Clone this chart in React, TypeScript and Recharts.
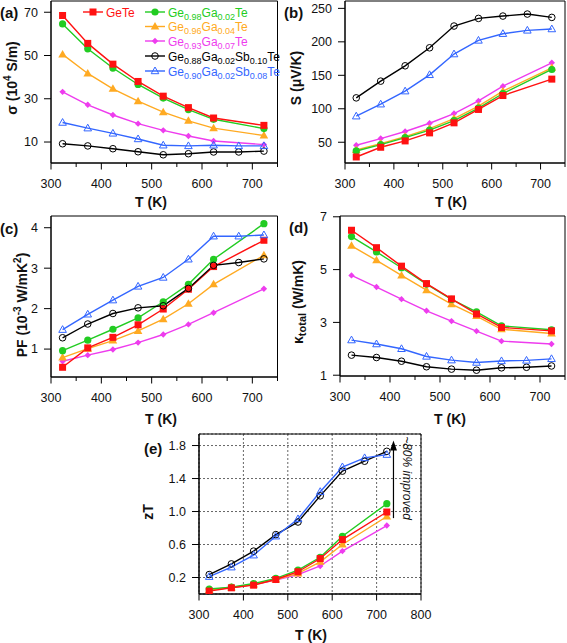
import React from "react";
import { LineChart, Line, XAxis, YAxis, ReferenceArea, ReferenceLine, CartesianGrid } from "recharts";

const FONT = "Arial, 'Liberation Sans', Helvetica, sans-serif";

const TEMPS = [323, 373, 423, 473, 523, 573, 623, 673, 723];

// (a) electrical conductivity, 10^4 S/m
const SIGMA_GETE = [68.5, 55.6, 46.0, 38.0, 31.2, 25.9, 21.1, null, 17.7];
const SIGMA_GA2 = [64.6, 53.1, 44.2, 36.6, 30.3, 25.0, 20.5, null, 16.2];
const SIGMA_GA4 = [50.5, 41.7, 34.6, 28.9, 23.8, 19.8, 16.4, null, 13.0];
const SIGMA_GA7 = [33.2, 27.2, 22.5, 18.5, 15.4, 12.8, 10.5, null, 8.8];
const SIGMA_SB10 = [9.2, 8.2, 6.9, 5.5, 4.1, 4.6, 5.4, 5.4, 5.8];
const SIGMA_SB8 = [19.0, 16.4, 14.0, 11.4, 8.5, 8.2, 8.5, 8.2, 8.2];

// (b) Seebeck, uV/K
const S_GETE = [28.0, 42.5, 52, 64, 79, 99, 119.8, null, 144.3];
const S_GA2 = [37, 46.5, 57, 68, 82.4, 100.9, 122.8, null, 158.7];
const S_GA4 = [38.5, 48, 58.5, 70.4, 85.4, 103.9, 126.3, null, 161.2];
const S_GA7 = [45.5, 55.5, 66, 78.4, 92.9, 111.8, 133.8, null, 168.7];
const S_SB10 = [116.3, 141.3, 164.2, 191.1, 223.6, 235, 238.5, 241.5, 236.5];
const S_SB8 = [88.9, 106.8, 126.3, 150.7, 181.7, 202.1, 212.1, 217.1, 219.1];

// (c) power factor, 10^-3 W/mK^2
const PF_GETE = [0.55, 1.03, 1.29, 1.6, 1.99, 2.48, 3.04, null, 3.69];
const PF_GA2 = [0.96, 1.22, 1.49, 1.77, 2.17, 2.6, 3.22, null, 4.1];
const PF_GA4 = [0.79, 1.01, 1.21, 1.45, 1.74, 2.12, 2.6, null, 3.32];
const PF_GA7 = [0.7, 0.85, 0.99, 1.16, 1.36, 1.61, 1.9, null, 2.49];
const PF_SB10 = [1.28, 1.62, 1.88, 2.02, 2.07, 2.5, 3.07, 3.14, 3.23];
const PF_SB8 = [1.48, 1.86, 2.21, 2.55, 2.77, 3.22, 3.79, 3.79, 3.82];

// (d) total thermal conductivity, W/mK
const K_GETE = [6.49, 5.83, 5.13, 4.47, 3.89, 3.32, 2.81, null, 2.68];
const K_GA2 = [6.25, 5.67, 5.07, 4.45, 3.87, 3.4, 2.87, null, 2.72];
const K_GA4 = [5.9, 5.35, 4.78, 4.22, 3.69, 3.24, 2.74, null, 2.58];
const K_GA7 = [4.78, 4.34, 3.88, 3.44, 3.05, 2.67, 2.29, null, 2.18];
const K_SB10 = [1.76, 1.67, 1.53, 1.32, 1.23, 1.19, 1.28, 1.3, 1.35];
const K_SB8 = [2.33, 2.18, 2.0, 1.71, 1.57, 1.48, 1.54, 1.56, 1.62];

// (e) zT
const ZT_GETE = [0.035, 0.075, 0.107, 0.176, 0.27, 0.43, 0.66, null, 0.994];
const ZT_GA2 = [0.06, 0.083, 0.127, 0.19, 0.29, 0.445, 0.7, null, 1.095];
const ZT_GA4 = [0.047, 0.079, 0.115, 0.176, 0.25, 0.39, 0.6, null, 0.94];
const ZT_GA7 = [0.055, 0.075, 0.115, 0.168, 0.236, 0.34, 0.52, null, 0.83];
const ZT_SB10 = [0.236, 0.365, 0.52, 0.72, 0.873, 1.19, 1.49, 1.61, 1.73];
const ZT_SB8 = [0.21, 0.325, 0.47, 0.7, 0.91, 1.24, 1.54, 1.65, 1.69];

// improvement arrow in (e)
const ARROW_T = 738;
const ARROW_FROM = 0.92;
const ARROW_TO = 1.86;

const SERIES = [
  { key: "ga7", name: "Ge_{0.93}Ga_{0.07}Te", color: "#ee3cee", marker: "diamond" },
  { key: "ga4", name: "Ge_{0.96}Ga_{0.04}Te", color: "#ffaa22", marker: "triangle" },
  { key: "ga2", name: "Ge_{0.98}Ga_{0.02}Te", color: "#22cc22", marker: "circle" },
  { key: "gete", name: "GeTe", color: "#ff1111", marker: "square" },
  { key: "sb10", name: "Ge_{0.88}Ga_{0.02}Sb_{0.10}Te", color: "#000000", marker: "openCircle" },
  { key: "sb8", name: "Ge_{0.90}Ga_{0.02}Sb_{0.08}Te", color: "#3366ff", marker: "openTriangle" },
];

const rows = (gete, ga2, ga4, ga7, sb10, sb8) =>
  TEMPS.map((T, i) => ({ T, gete: gete[i], ga2: ga2[i], ga4: ga4[i], ga7: ga7[i], sb10: sb10[i], sb8: sb8[i] }));

const DATA_A = rows(SIGMA_GETE, SIGMA_GA2, SIGMA_GA4, SIGMA_GA7, SIGMA_SB10, SIGMA_SB8);
const DATA_B = rows(S_GETE, S_GA2, S_GA4, S_GA7, S_SB10, S_SB8);
const DATA_C = rows(PF_GETE, PF_GA2, PF_GA4, PF_GA7, PF_SB10, PF_SB8);
const DATA_D = rows(K_GETE, K_GA2, K_GA4, K_GA7, K_SB10, K_SB8);
const DATA_E = rows(ZT_GETE, ZT_GA2, ZT_GA4, ZT_GA7, ZT_SB10, ZT_SB8);

function Marker({ type, color, cx, cy }) {
  switch (type) {
    case "square":
      return <rect x={cx - 3.5} y={cy - 3.5} width={7} height={7} fill={color} />;
    case "circle":
      return <circle cx={cx} cy={cy} r={3.6} fill={color} />;
    case "triangle":
      return <polygon points={`${cx},${cy - 4.5} ${cx + 4.3},${cy + 3} ${cx - 4.3},${cy + 3}`} fill={color} />;
    case "diamond":
      return <polygon points={`${cx},${cy - 3.2} ${cx + 3.2},${cy} ${cx},${cy + 3.2} ${cx - 3.2},${cy}`} fill={color} />;
    case "openCircle":
      return <circle cx={cx} cy={cy} r={3.3} fill="none" stroke={color} strokeWidth={1} />;
    case "openTriangle":
      return (
        <polygon
          points={`${cx},${cy - 4} ${cx + 3.8},${cy + 2.7} ${cx - 3.8},${cy + 2.7}`}
          fill="none"
          stroke={color}
          strokeWidth={1}
        />
      );
    default:
      return null;
  }
}

const dotFor = (type, color) => (p) => {
  if (p.cx == null || p.cy == null || p.value == null || (Array.isArray(p.value) && p.value[1] == null))
    return <g key={p.index} />;
  return (
    <g key={p.index}>
      <Marker type={type} color={color} cx={p.cx} cy={p.cy} />
    </g>
  );
};

const xTick = (p) => {
  const { x, y, payload } = p;
  const major = payload.value % 100 === 0;
  return (
    <g>
      <line x1={x} x2={x} y1={y} y2={y + (major ? 6.5 : 4)} stroke="#000" />
      {major && (
        <text x={x} y={y + 25} textAnchor="middle" fontSize={12.5} fontFamily={FONT} fill="#111">
          {payload.value}
        </text>
      )}
    </g>
  );
};

const yTickWith = (fmt) => (p) => {
  const { x, y, payload } = p;
  return (
    <g>
      <line x1={x} x2={x - 7} y1={y} y2={y} stroke="#000" />
      <text x={x - 13} y={y + 4.4} textAnchor="end" fontSize={12.5} fontFamily={FONT} fill="#111">
        {fmt(payload.value)}
      </text>
    </g>
  );
};

const YW = 60;
const XH = 32;
const MT = 10;
const MR = 24;

function Panel({ box, data, xDomain, xTicks, yDomain, yTicks, fmt = (v) => String(v), grid = false, children = null }) {
  const w = box.r - box.l;
  const h = box.b - box.t;
  return (
    <div style={{ position: "absolute", left: box.l - YW, top: box.t - MT }}>
      <LineChart width={YW + w + MR} height={MT + h + XH} data={data} margin={{ top: MT, right: MR, left: 0, bottom: 0 }}>
        {grid && <CartesianGrid stroke="#666" strokeDasharray="2 2" strokeWidth={1} />}
        <XAxis
          dataKey="T"
          type="number"
          domain={xDomain}
          ticks={xTicks}
          allowDataOverflow
          height={XH}
          tickSize={0}
          tickMargin={0}
          tick={xTick}
          axisLine={{ stroke: "#000" }}
          interval={0}
        />
        <YAxis
          type="number"
          domain={yDomain}
          ticks={yTicks}
          allowDataOverflow
          width={YW}
          tickSize={0}
          tickMargin={0}
          tick={yTickWith(fmt)}
          axisLine={{ stroke: "#000" }}
          interval={0}
        />
        <ReferenceArea
          x1={xDomain[0]}
          x2={xDomain[1]}
          y1={yDomain[0]}
          y2={yDomain[1]}
          fill="none"
          stroke="#000"
          strokeWidth={1}
          ifOverflow="visible"
        />
        {SERIES.map((s) => (
          <Line
            key={s.key}
            dataKey={s.key}
            stroke={s.color}
            strokeWidth={1.4}
            dot={dotFor(s.marker, s.color)}
            activeDot={false}
            connectNulls
            isAnimationActive={false}
          />
        ))}
        {children}
      </LineChart>
    </div>
  );
}

function Formula({ text, size = 12, sub = 9, shift = 3 }) {
  const parts = text.split(/_\{([^}]*)\}/);
  const out = [];
  let lowered = false;
  parts.forEach((t, i) => {
    if (!t) return;
    const isSub = i % 2 === 1;
    let dy = 0;
    if (isSub && !lowered) {
      dy = shift;
      lowered = true;
    } else if (!isSub && lowered) {
      dy = -shift;
      lowered = false;
    }
    out.push(
      <tspan key={i} dy={dy} fontSize={isSub ? sub : size}>
        {t}
      </tspan>
    );
  });
  return <>{out}</>;
}

const LEGEND_ROWS = [
  { key: "gete", x: 83, y: 12 },
  { key: "ga2", x: 145, y: 12 },
  { key: "ga4", x: 145, y: 26.5 },
  { key: "ga7", x: 145, y: 41 },
  { key: "sb10", x: 145, y: 56 },
  { key: "sb8", x: 145, y: 71 },
];

const X_MINOR = [300, 350, 400, 450, 500, 550, 600, 650, 700, 750];

export default function App() {
  const title = { fontFamily: FONT, fontWeight: 700, fontSize: 14, fill: "#111" };
  return (
    <div style={{ position: "absolute", left: 0, top: 0, width: 567, height: 643, background: "#fff", fontFamily: FONT }}>
      <Panel box={{ l: 50.5, t: 1, r: 277, b: 163 }} data={DATA_A} xDomain={[300, 750]} xTicks={X_MINOR} yDomain={[0.3, 75.2]} yTicks={[10, 30, 50, 70]} />
      <Panel box={{ l: 344.5, t: 1, r: 564.5, b: 163 }} data={DATA_B} xDomain={[300, 750]} xTicks={X_MINOR} yDomain={[19, 261]} yTicks={[50, 100, 150, 200, 250]} />
      <Panel box={{ l: 50.5, t: 216, r: 277, b: 377 }} data={DATA_C} xDomain={[300, 750]} xTicks={X_MINOR} yDomain={[0.31, 4.29]} yTicks={[1, 2, 3, 4]} />
      <Panel box={{ l: 339.5, t: 216, r: 564.5, b: 376 }} data={DATA_D} xDomain={[300, 750]} xTicks={X_MINOR} yDomain={[0.97, 7.03]} yTicks={[1, 3, 5, 7]} />
      <Panel
        box={{ l: 198.5, t: 433.5, r: 420.5, b: 593.5 }}
        data={DATA_E}
        xDomain={[300, 800]}
        xTicks={[300, 400, 500, 600, 700, 800]}
        yDomain={[0, 1.94]}
        yTicks={[0.2, 0.6, 1.0, 1.4, 1.8]}
        fmt={(v) => v.toFixed(1)}
        grid
      >
        <ReferenceLine
          segment={[
            { x: ARROW_T, y: ARROW_FROM },
            { x: ARROW_T, y: ARROW_TO },
          ]}
          stroke="#000"
          ifOverflow="visible"
          shape={(p) => (
            <g>
              <line x1={p.x1} y1={p.y1} x2={p.x2} y2={p.y2 + 8} stroke="#000" strokeWidth={1.2} />
              <polygon points={`${p.x2},${p.y2} ${p.x2 - 3.5},${p.y2 + 10} ${p.x2 + 3.5},${p.y2 + 10}`} fill="#000" />
            </g>
          )}
        />
      </Panel>

      <svg width={567} height={643} style={{ position: "absolute", left: 0, top: 0, pointerEvents: "none" }}>
        {/* panel letters */}
        <text x={0} y={18} {...title} fontSize={15}>(a)</text>
        <text x={284} y={18} {...title} fontSize={15}>(b)</text>
        <text x={0} y={234} {...title} fontSize={15}>(c)</text>
        <text x={289} y={233} {...title} fontSize={15}>(d)</text>
        <text x={144} y={454} {...title} fontSize={15}>(e)</text>

        {/* x titles */}
        <text x={151} y={207} textAnchor="middle" {...title}>T (K)</text>
        <text x={451} y={207} textAnchor="middle" {...title}>T (K)</text>
        <text x={161} y={424} textAnchor="middle" {...title}>T (K)</text>
        <text x={450} y={424} textAnchor="middle" {...title}>T (K)</text>
        <text x={311} y={640} textAnchor="middle" {...title}>T (K)</text>

        {/* y titles */}
        <text x={12} y={78} textAnchor="middle" dominantBaseline="central" transform="rotate(-90 12 78)" {...title}>
          σ (10<tspan dy={-5} fontSize={10}>4</tspan><tspan dy={5}> S/m)</tspan>
        </text>
        <text x={296} y={78} textAnchor="middle" dominantBaseline="central" transform="rotate(-90 296 78)" {...title}>
          S (μV/K)
        </text>
        <text x={22} y={305} textAnchor="middle" dominantBaseline="central" transform="rotate(-90 22 305)" {...title}>
          PF (10<tspan dy={-5} fontSize={10}>-3</tspan><tspan dy={5}> W/mK</tspan><tspan dy={-5} fontSize={10}>2</tspan><tspan dy={5}>)</tspan>
        </text>
        <text x={298} y={302} textAnchor="middle" dominantBaseline="central" transform="rotate(-90 298 302)" {...title}>
          κ<tspan dy={4} fontSize={11}>total</tspan><tspan dy={-4}> (W/mK)</tspan>
        </text>
        <text x={148} y={512} textAnchor="middle" dominantBaseline="central" transform="rotate(-90 148 512)" {...title}>
          zT
        </text>

        {/* annotation */}
        <text
          x={407}
          y={478}
          textAnchor="middle"
          dominantBaseline="central"
          transform="rotate(90 407 478)"
          fontFamily={FONT}
          fontStyle="italic"
          fontSize={12}
          fill="#111"
        >
          ~80% improved
        </text>

        {/* legend for (a) */}
        {LEGEND_ROWS.map((r) => {
          const s = SERIES.find((q) => q.key === r.key);
          return (
            <g key={r.key}>
              <line x1={r.x} x2={r.x + 20} y1={r.y} y2={r.y} stroke={s.color} strokeWidth={1.4} />
              <Marker type={s.marker} color={s.color} cx={r.x + 10} cy={r.y} />
              <text x={r.x + 23} y={r.y + 4.5} fill={s.color} fontFamily={FONT} fontSize={12}>
                <Formula text={s.name} />
              </text>
            </g>
          );
        })}
      </svg>
    </div>
  );
}
